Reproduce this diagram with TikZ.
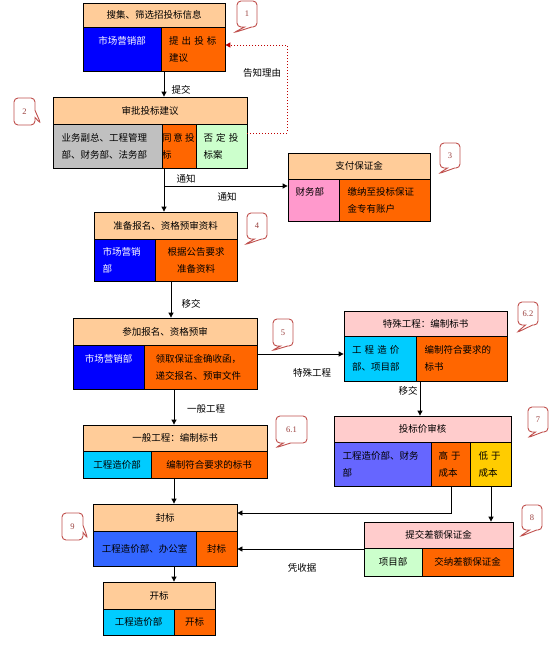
\documentclass[tikz,border=0pt]{standalone}
\usepackage{fontspec}
\setmainfont{Noto Sans CJK SC}
\newfontfamily\numfont{Liberation Serif}
\usetikzlibrary{arrows.meta,shapes.callouts,calc}
\definecolor{peach}{HTML}{FFCC99}
\definecolor{pinkh}{HTML}{FFCCCC}
\definecolor{bblue}{HTML}{0000FF}
\definecolor{orng}{HTML}{FF6600}
\definecolor{gry}{HTML}{C0C0C0}
\definecolor{lgreen}{HTML}{CCFFCC}
\definecolor{mpink}{HTML}{FF99CC}
\definecolor{cyn}{HTML}{00CCFF}
\definecolor{purp}{HTML}{6666FF}
\definecolor{yel}{HTML}{FFCC00}
\definecolor{rblue}{HTML}{3366FF}
\definecolor{calred}{HTML}{C0504D}
\definecolor{dotred}{HTML}{C00000}
\newcommand\cbox[7]{%
 \pgfmathsetmacro\cbw{#4-#2}\pgfmathsetmacro\cbh{#5-#3}%
 \node[cell,#6,minimum width=\cbw pt,minimum height=\cbh pt] (#1) at ({(#2+#4)/2},{(#3+#5)/2}) {#7};}
\newcommand\gapsp{\hspace{2pt}}
\begin{document}
\begin{tikzpicture}[x=1pt,y=-1pt,
  cell/.style={draw=black,line width=0.8pt,inner sep=0pt,font=\fontsize{9.5}{17}\selectfont,text=black},
  lt/.style={align=left,text width=#1pt},
  ct/.style={align=center},
  arr/.style={-{Triangle[length=5pt,width=5pt]},line width=0.8pt},
  dotline/.style={dotted,draw=dotred,line width=1pt,-{Triangle[length=5pt,width=5pt]}},
  lab/.style={font=\fontsize{9.5}{12}\selectfont,inner sep=0pt},
  call/.style={rectangle callout,draw=calred,fill=white,line width=0.9pt,rounded corners=4pt,
    inner sep=0pt,font=\numfont\fontsize{8.5}{10}\selectfont,text=calred!80!black}]
\useasboundingbox (0,0) rectangle (556,648);
% box 1
\cbox{b1h}{83}{3}{225}{27}{fill=peach}{搜集、筛选招投标信息}
\cbox{b1l}{83}{27}{161}{71}{fill=bblue,text=white,ct}{市场营销部\\~}
\cbox{b1r}{161}{27}{225}{71}{fill=orng,lt=48}{提 出 投 标\\建议}
% box 2
\cbox{b2h}{53}{97}{247}{124}{fill=peach}{审批投标建议}
\cbox{b2g}{53}{124}{162}{168}{fill=gry,lt=92}{业务副总、工程管理\\部、财务部、法务部}
\cbox{b2o}{162}{124}{196}{168}{fill=orng,lt=34}{同\gapsp 意\gapsp 投\\标}
\cbox{b2n}{196}{124}{247}{168}{fill=lgreen,lt=36}{否 定 投\\标案}
% box 3
\cbox{b3h}{288}{153}{430}{179}{fill=peach}{支付保证金}
\cbox{b3p}{288}{179}{339}{221}{fill=mpink,lt=36}{财务部\\~}
\cbox{b3o}{339}{179}{430}{221}{fill=orng,lt=74}{缴纳至投标保证\\金专有账户}
% box 4
\cbox{b4h}{94}{212}{237}{239}{fill=peach}{准备报名、资格预审资料}
\cbox{b4l}{94}{239}{155}{281}{fill=bblue,text=white,lt=44}{市场营销\\部}
\cbox{b4r}{155}{239}{237}{281}{fill=orng,ct}{根据公告要求\\准备资料}
% box 5
\cbox{b5h}{73}{318}{257}{345}{fill=peach}{参加报名、资格预审}
\cbox{b5l}{73}{345}{144}{389}{fill=bblue,text=white,ct}{市场营销部\\~}
\cbox{b5r}{144}{345}{257}{389}{fill=orng,lt=90}{领取保证金确收函，\\递交报名、预审文件}
% box 6.2
\cbox{b62h}{344}{311}{507}{336}{fill=pinkh}{特殊工程：编制标书}
\cbox{b62l}{344}{336}{416}{381}{fill=cyn,lt=56}{工 程 造 价\\部、项目部}
\cbox{b62r}{416}{336}{507}{381}{fill=orng,lt=74}{编制符合要求的\\标书}
% box 7
\cbox{b7h}{334}{416}{511}{442}{fill=pinkh}{投标价审核}
\cbox{b7l}{334}{442}{431}{486}{fill=purp,lt=80}{工程造价部、财务\\部}
\cbox{b7m}{431}{442}{470}{486}{fill=orng,lt=24}{高 于\\成本}
\cbox{b7r}{470}{442}{511}{486}{fill=yel,lt=24}{低 于\\成本}
% box 6.1
\cbox{b61h}{83}{425}{267}{451}{fill=peach}{一般工程：编制标书}
\cbox{b61l}{83}{451}{151}{478}{fill=cyn}{工程造价部}
\cbox{b61r}{151}{451}{267}{478}{fill=orng}{编制符合要求的标书}
% box 9
\cbox{b9h}{93}{504}{237}{531}{fill=peach}{封标}
\cbox{b9l}{93}{531}{196}{566}{fill=rblue}{工程造价部、办公室}
\cbox{b9r}{196}{531}{237}{566}{fill=orng}{封标}
% box 8
\cbox{b8h}{364}{522}{513}{548}{fill=pinkh}{提交差额保证金}
\cbox{b8l}{364}{548}{422}{576}{fill=lgreen}{项目部}
\cbox{b8r}{422}{548}{513}{576}{fill=orng}{交纳差额保证金}
% box 10
\cbox{b10h}{103}{582}{215}{609}{fill=peach}{开标}
\cbox{b10l}{103}{609}{174}{635}{fill=cyn}{工程造价部}
\cbox{b10r}{174}{609}{215}{635}{fill=orng}{开标}
% connector points
\coordinate (p1) at (164,71);
\coordinate (p2) at (164,168);
\coordinate (j1) at (164,186);
\coordinate (p4) at (171,281);
\coordinate (p5r) at (257,354);
\coordinate (p5b) at (174,389);
\coordinate (p62) at (420,381);
\coordinate (p61) at (174,478);
\coordinate (p7m) at (451,486);
\coordinate (k7) at (451,513);
\coordinate (p7r) at (491,486);
\coordinate (p8) at (364,549);
\coordinate (p9) at (174,566);
\coordinate (d1) at (247,133);
\coordinate (d2) at (287,45);
% connectors
\draw[arr] (p1) -- (p1 |- b2h.north);
\draw[arr] (p2) -- (p2 |- b4h.north);
\draw[arr] (j1) -- (j1 -| b3p.west);
\draw[dotline] (d1) -| (d2) -- (d2 -| b1r.east);
\draw[arr] (p4) -- (p4 |- b5h.north);
\draw[arr] (p5r) -- (p5r -| b62l.west);
\draw[arr] (p5b) -- (p5b |- b61h.north);
\draw[arr] (p62) -- (p62 |- b7h.north);
\draw[arr] (p61) -- (p61 |- b9h.north);
\draw[arr] (p7m) -- (k7) -- (k7 -| b9h.east);
\draw[arr] (p7r) -- (p7r |- b8h.north);
\draw[arr] (p8) -- (p8 -| b9r.east);
\draw[arr] (p9) -- (p9 |- b10h.north);
% labels
\node[lab] (l1) at (181,90) {提交};
\node[lab] (l2) at (262,73) {告知理由};
\node[lab] (l3) at (186,179) {通知};
\node[lab] (l4) at (227,197) {通知};
\node[lab] (l5) at (191,304) {移交};
\node[lab] (l6) at (312,373) {特殊工程};
\node[lab] (l7) at (408,391) {移交};
\node[lab] (l8) at (206,409) {一般工程};
\node[lab] (l9) at (302,568) {凭收据};
% callouts
\node[call,minimum width=20pt,minimum height=26pt,callout absolute pointer={(233,33)}] (c1) at (247,14) {1};
\node[call,minimum width=21pt,minimum height=27pt,callout absolute pointer={(41,124)}] (c2) at (24.5,111.5) {2};
\node[call,minimum width=20pt,minimum height=25pt,callout absolute pointer={(438,174)}] (c3) at (450,155.5) {3};
\node[call,minimum width=20pt,minimum height=26pt,callout absolute pointer={(244,245)}] (c4) at (257,226) {4};
\node[call,minimum width=20pt,minimum height=27pt,callout absolute pointer={(271,351)}] (c5) at (283,332.5) {5};
\node[call,minimum width=20pt,minimum height=23pt,callout absolute pointer={(516,333)}] (c62) at (528,313.5) {6.2};
\node[call,minimum width=20pt,minimum height=25pt,callout absolute pointer={(527,438)}] (c7) at (538,419.5) {7};
\node[call,minimum width=31pt,minimum height=27pt,callout absolute pointer={(275,448)}] (c61) at (291.5,429.5) {6.1};
\node[call,minimum width=21pt,minimum height=27pt,callout absolute pointer={(88,539)}] (c9) at (72.5,526.5) {9};
\node[call,minimum width=20pt,minimum height=25pt,callout absolute pointer={(519,537)}] (c8) at (532,517.5) {8};
\end{tikzpicture}
\end{document}
